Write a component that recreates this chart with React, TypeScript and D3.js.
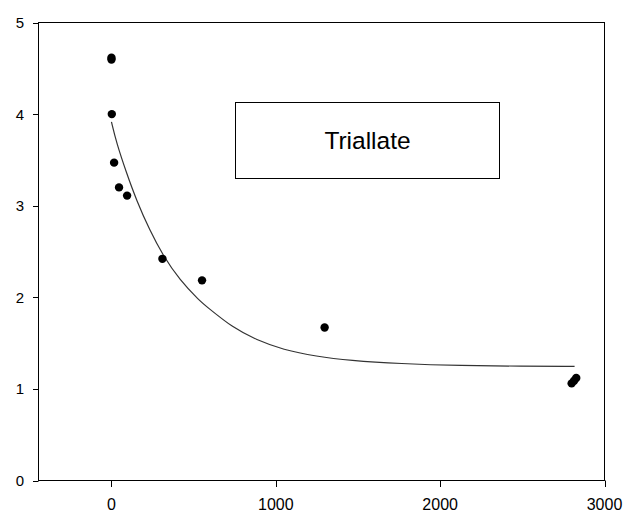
import React from "react";
import * as d3 from "d3";

// Observed points (time vs value)
const pointX = [0, 0, 2, 16, 46, 95, 310, 551, 1297, 2800, 2815, 2828];
const pointY = [4.595, 4.615, 4.0, 3.47, 3.2, 3.11, 2.42, 2.185, 1.67, 1.06, 1.09, 1.12];

// Fitted curve
const curveX = [0, 30, 91, 152, 233, 314, 415, 537, 578, 740, 882, 1044, 1247, 1450, 1754, 2129, 2500, 2818];
const curveY = [3.914, 3.69, 3.36, 3.06, 2.73, 2.455, 2.19, 1.96, 1.9, 1.665, 1.536, 1.427, 1.354, 1.31, 1.275, 1.253, 1.248, 1.245];

const xTicks = [0, 1000, 2000, 3000];
const yTicks = [0, 1, 2, 3, 4, 5];
const legendLabel = "Triallate";

const W = 623;
const H = 514;
const left = 38.5;
const right = 604.5;
const top = 22.5;
const bottom = 480.5;

export default function App() {
  const x = d3.scaleLinear().domain([-444, 3000]).range([left, right]);
  const y = d3.scaleLinear().domain([0, 5]).range([bottom, top]);

  const line = d3
    .line<number>()
    .x((_, i) => x(curveX[i]))
    .y((d) => y(d))
    .curve(d3.curveBasis);

  const font = "Arial, 'Liberation Sans', sans-serif";

  return (
    <svg
      width={W}
      height={H}
      viewBox={`0 0 ${W} ${H}`}
      style={{ position: "absolute", left: 0, top: 0, background: "#fff" }}
    >
      <rect x={0} y={0} width={W} height={H} fill="#fff" />
      {/* frame */}
      <rect
        x={left}
        y={top}
        width={right - left}
        height={bottom - top}
        fill="none"
        stroke="#000"
        strokeWidth={1}
      />
      {/* y ticks */}
      {yTicks.map((t) => (
        <g key={"y" + t}>
          <line x1={33} x2={left} y1={Math.round(y(t)) + 0.5} y2={Math.round(y(t)) + 0.5} stroke="#000" />
          <text
            x={24}
            y={y(t)}
            dy="0.36em"
            textAnchor="end"
            fontFamily={font}
            fontSize={15}
            fill="#000"
          >
            {t}
          </text>
        </g>
      ))}
      {/* x ticks */}
      {xTicks.map((t) => (
        <g key={"x" + t}>
          <line x1={Math.round(x(t)) + 0.5} x2={Math.round(x(t)) + 0.5} y1={bottom} y2={487} stroke="#000" />
          <text
            x={x(t)}
            y={510}
            textAnchor="middle"
            fontFamily={font}
            fontSize={16}
            fill="#000"
          >
            {t}
          </text>
        </g>
      ))}
      {/* fitted curve */}
      <path d={line(curveY) || ""} fill="none" stroke="#333" strokeWidth={1.2} />
      {/* points */}
      {pointY.map((v, i) => (
        <circle key={"p" + i} cx={x(pointX[i])} cy={y(v)} r={4.2} fill="#000" />
      ))}
      {/* legend box */}
      <rect x={235.5} y={102.5} width={264} height={76} fill="#fff" stroke="#000" strokeWidth={1} />
      <text
        x={367.5}
        y={149}
        textAnchor="middle"
        fontFamily={font}
        fontSize={24.5}
        fill="#000"
      >
        {legendLabel}
      </text>
    </svg>
  );
}
